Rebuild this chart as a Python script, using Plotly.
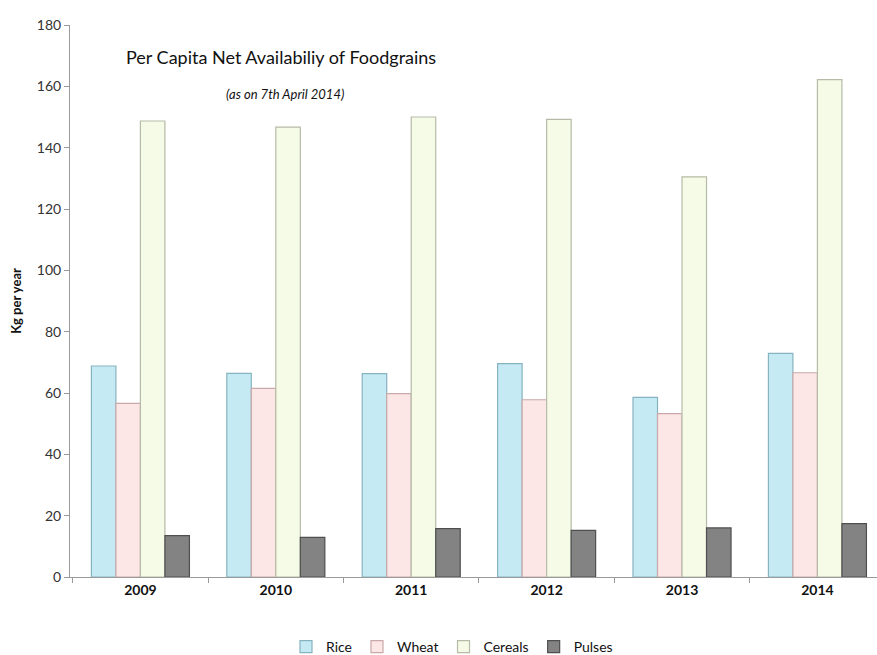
import plotly.graph_objects as go

years = ["2009", "2010", "2011", "2012", "2013", "2014"]
rice = [68.8, 66.4, 66.3, 69.6, 58.6, 72.9]
wheat = [56.6, 61.5, 59.8, 57.8, 53.3, 66.6]
cereals = [148.7, 146.7, 150.0, 149.2, 130.5, 162.2]
pulses = [13.5, 12.9, 15.8, 15.2, 16.0, 17.4]

series = [
    ("Rice", rice, "#c6eaf4", "#86b3c0"),
    ("Wheat", wheat, "#fde6e6", "#c9a9a9"),
    ("Cereals", cereals, "#f6fbe8", "#b6bba8"),
    ("Pulses", pulses, "#838383", "#4f4f4f"),
]

font_family = "Lato, 'Open Sans', sans-serif"

fig = go.Figure()
for name, vals, fill, edge in series:
    fig.add_trace(go.Bar(
        name=name, x=years, y=vals,
        marker=dict(color=fill, line=dict(color=edge, width=1.2)),
    ))

W, H = 877, 655
L, R, T, B = 70, 0, 25, 78
pw, ph = W - L - R, H - T - B


def px(xp):
    return (xp - L) / pw


def py(yp):
    return (H - B - yp) / ph


fig.update_layout(
    width=W, height=H,
    margin=dict(l=L, r=R, t=T, b=B, autoexpand=False),
    paper_bgcolor="white", plot_bgcolor="white",
    barmode="group", bargap=0.276, bargroupgap=0,
    font=dict(family=font_family, size=12, color="#333"),
    showlegend=True,
    legend=dict(orientation="h", x=px(452), xanchor="center", y=py(647), yanchor="middle",
                font=dict(size=14, color="#111"), itemwidth=30, traceorder="normal",
                tracegroupgap=0),
)
fig.add_annotation(text="Per Capita Net Availabiliy of Foodgrains",
                   xref="paper", yref="paper", x=px(281), y=py(57),
                   xanchor="center", yanchor="middle",
                   showarrow=False, font=dict(size=18, color="#111", family=font_family))
fig.add_annotation(text="<i>(as on 7th April 2014)</i>",
                   xref="paper", yref="paper", x=px(285), y=py(94),
                   xanchor="center", yanchor="middle",
                   showarrow=False, font=dict(size=13, color="#111", family=font_family))

fig.update_yaxes(
    range=[0, 180], dtick=20, showgrid=False, zeroline=False, automargin=False,
    showline=True, linecolor="#9a9a9a", linewidth=1,
    ticks="outside", ticklen=5, tickcolor="#9a9a9a",
    tickfont=dict(size=14, color="#333"),
    title=dict(text="<b>Kg per year</b>", font=dict(size=13, color="#111"), standoff=12),
)
fig.update_xaxes(
    range=[-0.52, 5.44],
    showgrid=False, showline=True, linecolor="#9a9a9a", linewidth=1, automargin=False,
    ticks="outside", ticklen=5, tickcolor="#9a9a9a", tickson="boundaries",
    tickfont=dict(size=14, color="#111"),
    tickvals=years, ticktext=[f"<b>{y}</b>" for y in years],
)

fig.write_html("out.html")
